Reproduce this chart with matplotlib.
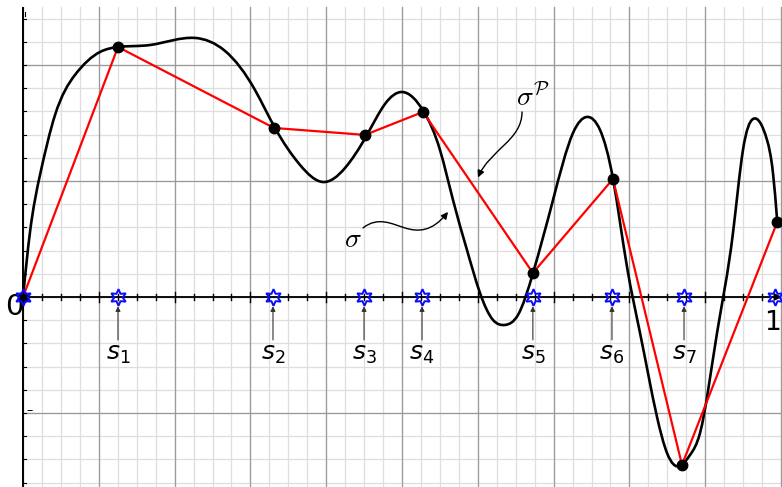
import numpy as np
import matplotlib
matplotlib.use("Agg")
import matplotlib.pyplot as plt
from matplotlib.path import Path
from matplotlib.patches import FancyArrowPatch, PathPatch

# ---------------- data ----------------
# subdivision points s_i (x positions on the unit interval)
s_points = [0.0, 0.1263, 0.3324, 0.4535, 0.5306, 0.678, 0.7832, 0.879, 1.0]
s_labels = ["", r"$s_1$", r"$s_2$", r"$s_3$", r"$s_4$", r"$s_5$", r"$s_6$", r"$s_7$", ""]

# polygonal approximation sigma^P (red) vertices
poly_x = [0.0, 0.1263, 0.3338, 0.4548, 0.5319, 0.678, 0.7845, 0.8763, 1.003]
poly_y = [0.0, 2.155, 1.457, 1.397, 1.595, 0.207, 1.017, -1.448, 0.647]

# smooth curve sigma (black) knots
curve_x = [0.0000, 0.0093, 0.0226, 0.0426, 0.0691, 0.1024, 0.1263, 0.1689, 0.2287,
           0.2686, 0.3085, 0.3351, 0.3684, 0.3989, 0.4282, 0.4574, 0.4814, 0.5040,
           0.5332, 0.5545, 0.5718, 0.5904, 0.6077, 0.6250, 0.6410, 0.6582, 0.6782,
           0.7048, 0.7314, 0.7500, 0.7673, 0.7846, 0.8032, 0.8205, 0.8431, 0.8564,
           0.8737, 0.8870, 0.9003, 0.9229, 0.9441, 0.9574, 0.9707, 0.9894, 0.9973,
           1.0030]
curve_y = [0.000, 0.560, 1.052, 1.569, 1.914, 2.112, 2.155, 2.172, 2.233,
           2.121, 1.784, 1.457, 1.138, 0.991, 1.112, 1.397, 1.664, 1.767,
           1.595, 1.267, 0.836, 0.405, 0.034, -0.198, -0.241, -0.155, 0.207,
           0.836, 1.414, 1.552, 1.440, 1.017, 0.259, -0.310, -1.034, -1.345,
           -1.457, -1.362, -1.172, -0.310, 0.552, 1.267, 1.534, 1.353, 1.069,
           0.647]

# ---------------- layout ----------------
GX = 0.1008          # major x grid step
GY = 1.0             # major y grid step
XMIN, XMAX = -0.0306, 1.0093
YMIN, YMAX = -1.638, 2.560

fig = plt.figure(figsize=(7.82, 4.87), dpi=100)
ax = fig.add_axes([0, 0, 1, 1])
ax.set_xlim(XMIN, XMAX)
ax.set_ylim(YMIN, YMAX)
ax.axis("off")

gtop = 2.50
# minor grid
for k in range(0, 45):
    x = k * GX / 4
    if x > XMAX:
        break
    ax.plot([x, x], [YMIN, gtop], color="#dedede", lw=0.9, zorder=0)
for k in range(-10, 15):
    y = k * GY / 5
    if YMIN <= y <= gtop:
        ax.plot([0, XMAX], [y, y], color="#dedede", lw=0.9, zorder=0)
# major grid
for k in range(0, 12):
    x = k * GX
    if x > XMAX:
        break
    ax.plot([x, x], [YMIN, gtop], color="#9a9a9a", lw=0.9, zorder=0.5)
for k in range(-2, 3):
    y = k * GY
    ax.plot([0, XMAX], [y, y], color="#9a9a9a", lw=0.9, zorder=0.5)

# axes lines
ax.plot([0, 0], [YMIN, 2.49], color="black", lw=1.4, zorder=2)
ax.annotate("", xy=(XMAX, 0), xytext=(0, 0),
            arrowprops=dict(arrowstyle="-|>", lw=1.3, color="black",
                            mutation_scale=10, shrinkA=0, shrinkB=0), zorder=2)
# x ticks
for k in range(1, 40):
    x = k * GX / 4
    h = 0.045 if k % 4 == 0 else 0.025
    ax.plot([x, x], [-h, h], color="black", lw=1.0, zorder=2)
# y ticks
for k in range(-8, 13):
    y = k * GY / 5
    if YMIN < y < 2.45 and k != 0:
        ax.plot([0, 0.004], [y, y], color="black", lw=0.8, zorder=2)
ax.plot([0.002, 0.002], [2.42, 2.46], color="black", lw=0.8, zorder=2)
ax.text(0.009, -0.98, "–", fontsize=9, ha="center", va="center", zorder=3)

# smooth curve: natural cubic spline through the knots, drawn as Bezier segments
X = np.asarray(curve_x)
Y = np.asarray(curve_y)
n = len(X)
h = np.diff(X)
A = np.zeros((n, n))
b = np.zeros(n)
A[0, 0] = 1.0
A[-1, -1] = 1.0
for i in range(1, n - 1):
    A[i, i - 1] = h[i - 1]
    A[i, i] = 2 * (h[i - 1] + h[i])
    A[i, i + 1] = h[i]
    b[i] = 6 * ((Y[i + 1] - Y[i]) / h[i] - (Y[i] - Y[i - 1]) / h[i - 1])
M = np.linalg.solve(A, b)
slope = np.zeros(n)
for i in range(n - 1):
    slope[i] = (Y[i + 1] - Y[i]) / h[i] - h[i] * (2 * M[i] + M[i + 1]) / 6
slope[-1] = (Y[-1] - Y[-2]) / h[-1] + h[-1] * (M[-2] + 2 * M[-1]) / 6

verts = [(X[0], Y[0])]
codes = [Path.MOVETO]
for i in range(n - 1):
    d = h[i] / 3
    verts += [(X[i] + d, Y[i] + slope[i] * d),
              (X[i + 1] - d, Y[i + 1] - slope[i + 1] * d),
              (X[i + 1], Y[i + 1])]
    codes += [Path.CURVE4] * 3
ax.add_patch(PathPatch(Path(verts, codes), facecolor="none", edgecolor="black",
                       lw=1.9, zorder=4, capstyle="round"))

# polygon
ax.plot(poly_x, poly_y, color="red", lw=1.6, zorder=5)
ax.plot(poly_x, poly_y, "o", color="black", markersize=7.5, zorder=6)

# stars on axis
ax.plot(s_points, [0] * len(s_points), linestyle="none", marker=(6, 1, 0),
        markersize=12, markerfacecolor="none", markeredgecolor="#0a0aff",
        markeredgewidth=1.4, zorder=7)

# labels and arrows under s_i
plt.rcParams["mathtext.fontset"] = "dejavusans"
for s, lab in zip(s_points, s_labels):
    if lab:
        ax.annotate("", xy=(s, -0.08), xytext=(s, -0.37),
                    arrowprops=dict(arrowstyle="-|>", lw=0.8, color="#333333",
                                    mutation_scale=7, shrinkA=0, shrinkB=0), zorder=3)
        ax.text(s, -0.49, lab, fontsize=18, ha="center", va="center", zorder=3)

ax.text(-0.012, -0.085, "0", fontsize=21, ha="center", va="center", zorder=3)
ax.text(0.9965, -0.225, "1", fontsize=19, ha="center", va="center", zorder=3)

# sigma^P annotation
ax.text(0.678, 1.72, r"$\sigma^{\mathcal{P}}$", fontsize=20, ha="center",
        va="center", math_fontfamily="cm", zorder=3)
p_arrow = Path([(0.6636, 1.595), (0.6636, 1.353), (0.621, 1.267), (0.605, 1.03)],
               [Path.MOVETO, Path.CURVE4, Path.CURVE4, Path.CURVE4])
ax.add_patch(FancyArrowPatch(path=p_arrow, arrowstyle="-|>", mutation_scale=10,
                             lw=1.0, color="black", zorder=3))

# sigma annotation
ax.text(0.4388, 0.50, r"$\sigma$", fontsize=20, ha="center", va="center",
        math_fontfamily="cm", zorder=3)
w_arrow = Path([(0.4521, 0.595), (0.4721, 0.698), (0.4907, 0.629), (0.5080, 0.595),
                (0.5253, 0.560), (0.5439, 0.560), (0.5652, 0.733)],
               [Path.MOVETO, Path.CURVE4, Path.CURVE4, Path.CURVE4,
                Path.CURVE4, Path.CURVE4, Path.CURVE4])
ax.add_patch(FancyArrowPatch(path=w_arrow, arrowstyle="-|>", mutation_scale=10,
                             lw=1.0, color="black", zorder=3))

fig.savefig("out.png", dpi=100)
